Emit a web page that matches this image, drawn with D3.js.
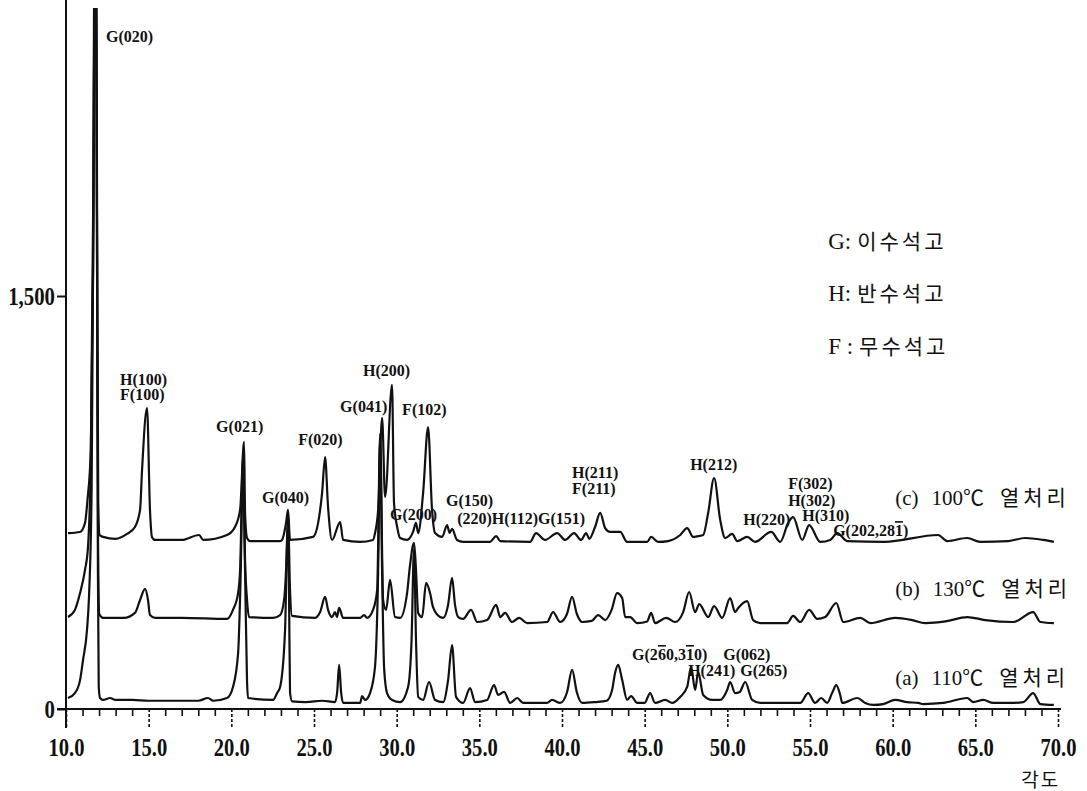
<!DOCTYPE html>
<html>
<head>
<meta charset="utf-8">
<script src="https://cdn.jsdelivr.net/npm/d3@7"></script>
<style>
  body { margin: 0; background: #fff; }
  svg { display: block; }
  .serif { font-family: "Liberation Serif", "Noto Sans CJK KR", serif; }
</style>
</head>
<body>
<div id="vis"></div>
<script>
// XRD patterns, 2theta (deg) vs counts
var xTicks = [10, 15, 20, 25, 30, 35, 40, 45, 50, 55, 60, 65, 70];
var yTicks = [0, 1500];
var seriesNames = [["(a)", "110℃", "열처리"], ["(b)", "130℃", "열처리"], ["(c)", "100℃", "열처리"]];
var legendItems = [["G:", "이수석고"], ["H:", "반수석고"], ["F :", "무수석고"]];
var axisTitle = "각도";

// (a) 110 C
var trace110 = [[10.12,40],[10.54,58],[10.85,105],[11.03,178],[11.27,287],[11.39,407],[11.55,800],[11.66,1800],[11.77,3300],[11.87,1800],[11.93,500],[11.98,80],[12.06,40],[12.24,33],[12.66,40],[13.00,33],[14.00,33],[15.00,30],[16.50,30],[18.00,30],[18.59,40],[18.90,30],[19.74,40],[20.10,80],[20.41,203],[20.55,450],[20.71,880],[20.83,500],[20.95,100],[21.01,40],[22.52,33],[22.77,58],[22.95,80],[23.25,287],[23.35,550],[23.43,690],[23.50,350],[23.55,60],[23.67,28],[24.50,25],[25.50,30],[26.27,25],[26.40,60],[26.52,160],[26.64,60],[26.76,22],[27.79,22],[27.91,47],[28.09,33],[28.39,58],[28.69,153],[28.88,500],[29.00,980],[29.12,500],[29.24,150],[29.42,58],[29.72,33],[30.21,25],[30.69,80],[30.90,250],[31.05,580],[31.17,250],[31.30,44],[31.60,33],[31.96,98],[32.32,33],[32.81,25],[33.11,105],[33.35,232],[33.59,44],[34.02,22],[34.44,76],[34.74,25],[35.47,33],[35.89,87],[36.14,51],[36.50,62],[36.86,22],[37.29,40],[37.65,22],[39.10,22],[39.40,33],[39.89,22],[40.30,60],[40.61,142],[40.90,60],[41.22,22],[42.00,25],[42.70,30],[43.03,69],[43.21,131],[43.40,160],[43.64,105],[43.94,33],[44.18,47],[44.55,22],[45.00,22],[45.33,58],[45.63,22],[46.24,33],[46.66,22],[47.15,44],[47.57,80],[47.81,153],[48.05,69],[48.24,134],[48.54,51],[49.08,33],[49.57,33],[49.99,69],[50.17,98],[50.47,58],[50.75,62],[51.08,98],[51.50,33],[51.99,22],[53.00,22],[54.41,22],[54.89,58],[55.31,22],[55.68,40],[56.04,22],[56.35,60],[56.59,87],[56.83,50],[56.95,22],[57.86,40],[58.34,22],[58.82,15],[59.43,18],[60.15,33],[60.88,25],[61.55,22],[61.85,18],[63.06,22],[64.51,40],[64.87,25],[65.48,33],[66.08,22],[67.11,22],[67.90,25],[68.50,58],[68.93,18],[69.75,15]];

// (b) 130 C
var trace130 = [[10.12,334],[10.54,360],[10.85,421],[11.15,505],[11.33,588],[11.50,900],[11.64,1800],[11.77,3300],[11.87,1800],[11.94,600],[12.01,345],[12.24,331],[13.50,331],[14.17,349],[14.48,396],[14.78,436],[14.96,396],[15.08,341],[15.38,331],[17.00,331],[19.74,327],[20.10,360],[20.41,421],[20.53,505],[20.71,920],[20.83,540],[20.95,396],[21.07,334],[22.52,331],[22.95,341],[23.19,396],[23.31,505],[23.43,700],[23.55,432],[23.67,338],[25.07,331],[25.37,352],[25.67,407],[25.85,360],[26.09,334],[26.27,352],[26.39,334],[26.52,367],[26.76,331],[27.79,331],[28.03,341],[28.21,331],[28.57,360],[28.82,432],[29.00,1000],[29.18,396],[29.36,360],[29.60,469],[29.90,334],[30.21,331],[30.63,421],[30.81,523],[31.05,603],[31.17,505],[31.30,349],[31.54,334],[31.78,458],[32.02,421],[32.20,370],[32.63,334],[32.81,331],[33.11,378],[33.35,476],[33.53,378],[33.72,334],[34.02,327],[34.50,360],[34.87,316],[35.47,323],[36.02,378],[36.26,334],[36.56,349],[36.98,316],[37.41,331],[37.89,312],[39.10,316],[39.46,352],[39.89,316],[40.30,345],[40.61,407],[40.90,345],[41.22,316],[41.80,320],[42.19,341],[42.61,323],[43.00,360],[43.33,421],[43.64,403],[43.82,334],[44.12,334],[44.55,312],[45.15,318],[45.39,349],[45.63,312],[46.30,331],[46.84,316],[47.33,352],[47.69,425],[48.05,352],[48.30,381],[48.84,334],[49.20,374],[49.69,331],[50.17,403],[50.47,352],[50.66,367],[51.20,392],[51.56,323],[51.99,312],[53.62,312],[53.98,338],[54.41,316],[54.95,360],[55.44,327],[55.92,334],[56.59,385],[57.01,316],[58.04,331],[58.64,312],[60.15,331],[61.18,323],[61.97,312],[63.20,318],[64.51,334],[65.60,323],[67.29,316],[68.50,352],[68.93,316],[69.75,312]];

// (c) 100 C
var trace100 = [[10.12,639],[10.85,643],[11.15,676],[11.30,760],[11.50,940],[11.64,1600],[11.79,3300],[11.88,1800],[11.95,750],[12.03,632],[12.24,625],[13.00,618],[13.69,636],[14.17,661],[14.48,723],[14.60,868],[14.90,1093],[15.08,723],[15.20,625],[15.38,614],[17.00,614],[18.05,632],[18.30,614],[19.74,632],[20.22,661],[20.53,723],[20.77,970],[20.83,712],[20.95,621],[21.13,610],[22.95,610],[23.07,614],[23.31,676],[23.43,723],[23.55,614],[24.94,625],[25.25,676],[25.49,785],[25.67,915],[25.85,734],[26.09,614],[26.58,679],[26.76,614],[27.79,607],[28.57,614],[28.69,639],[28.88,723],[29.12,1057],[29.30,770],[29.72,1177],[29.84,748],[30.03,661],[30.21,621],[30.63,614],[30.99,643],[31.17,676],[31.30,639],[31.60,785],[31.90,1024],[32.14,723],[32.32,639],[32.75,625],[33.05,668],[33.20,640],[33.35,654],[33.65,614],[34.02,607],[35.65,607],[36.02,628],[36.26,610],[38.07,607],[38.43,639],[38.97,614],[39.71,639],[40.19,614],[40.73,639],[41.16,614],[41.46,639],[41.65,618],[42.00,661],[42.31,712],[42.61,657],[42.91,643],[43.52,643],[43.94,607],[45.15,607],[45.39,625],[45.82,607],[46.42,610],[47.15,632],[47.57,657],[47.93,625],[48.24,628],[48.54,632],[48.84,712],[49.20,839],[49.57,686],[49.87,621],[50.29,636],[50.60,610],[51.20,625],[51.68,607],[52.65,643],[53.20,607],[53.68,676],[53.98,697],[54.53,614],[54.95,668],[55.62,607],[56.22,614],[56.65,639],[57.25,610],[59.50,607],[62.75,632],[63.30,610],[64.51,621],[65.30,607],[67.00,610],[68.02,621],[69.11,614],[69.75,607]];

// peak assignments: text, 2theta and counts of the text's start / baseline
// {..} = index with an overbar
var peakLabels = [
  ["G(020)", 12.42, 2423],
  ["H(100)", 13.27, 1177], ["F(100)", 13.27, 1122],
  ["G(021)", 19.08, 1006], ["G(040)", 21.86, 748], ["F(020)", 24.04, 959],
  ["G(041)", 26.58, 1079], ["H(200)", 27.97, 1209], ["F(102)", 30.33, 1068],
  ["G(200)", 29.60, 686], ["G(150)", 32.99, 737], ["(220)H(112)G(151)", 33.66, 672],
  ["H(211)", 40.61, 839], ["F(211)", 40.61, 781], ["H(212)", 47.75, 868],
  ["H(220)", 50.96, 668], ["F(302)", 53.68, 799], ["H(302)", 53.68, 737],
  ["H(310)", 54.53, 683], ["G(202,28{1})", 56.40, 628],
  ["G(2{6}0,3{1}0)", 44.24, 178], ["G(062)", 49.75, 178],
  ["H(241)", 47.63, 120], ["G(265)", 50.78, 120]
];

var svg = d3.select('#vis').append('svg').attr('width', 1087).attr('height', 791);

var x = d3.scaleLinear().domain([10, 70]).range([66, 1058]);
var y = d3.scaleLinear().domain([0, 2546]).range([709, 8]);

svg.append('clipPath').attr('id', 'plot')
  .append('rect').attr('x', x(10)).attr('y', y(2546))
  .attr('width', x(70) - x(10) + 5).attr('height', y(0) - y(2546) + 2);

var line = d3.line()
  .x(function(d) { return x(d[0]); })
  .y(function(d) { return y(d[1]); })
  .curve(d3.curveMonotoneX);

svg.selectAll('path.trace')
  .data([trace110, trace130, trace100]).enter().append('path')
  .attr('class', 'trace')
  .attr('clip-path', 'url(#plot)')
  .attr('d', line)
  .attr('fill', 'none')
  .attr('stroke', '#111')
  .attr('stroke-width', 2.2)
  .attr('stroke-linejoin', 'round');

// x axis: minor ticks every degree, dashed major ticks every 5
var minor = d3.range(11, 70, 1).filter(function(v) { return v % 5 !== 0; });
svg.append('g').attr('transform', 'translate(0,' + y(0) + ')')
  .call(d3.axisBottom(x).tickValues(minor).tickSize(7).tickFormat(''))
  .call(function(g) { g.select('.domain').remove(); })
  .selectAll('line').attr('stroke', '#111').attr('stroke-width', 1.6);

var gx = svg.append('g').attr('transform', 'translate(0,' + y(0) + ')')
  .call(d3.axisBottom(x).tickValues(xTicks).tickSize(19).tickFormat(d3.format('.1f')));
gx.select('.domain').remove();
gx.selectAll('.tick line').attr('stroke', '#111').attr('stroke-width', 1.6).attr('stroke-dasharray', '3,2');
gx.selectAll('.tick text')
  .attr('class', 'serif')
  .attr('y', 47).attr('dy', 0)
  .attr('fill', '#111')
  .style('font-size', '26px').style('font-weight', 'bold')
  .attr('textLength', 36).attr('lengthAdjust', 'spacingAndGlyphs');

svg.append('line')
  .attr('x1', x(10) - 9).attr('x2', x(70) + 3)
  .attr('y1', y(0)).attr('y2', y(0))
  .attr('stroke', '#111').attr('stroke-width', 2.2);

// y axis
var gy = svg.append('g').attr('transform', 'translate(' + x(10) + ',0)')
  .call(d3.axisLeft(y).tickValues(yTicks).tickSize(9).tickPadding(2).tickFormat(d3.format(',')));
gy.select('.domain').remove();
gy.selectAll('.tick line').attr('stroke', '#111').attr('stroke-width', 2);
gy.selectAll('.tick text')
  .attr('class', 'serif').attr('fill', '#111')
  .style('font-size', '26px').style('font-weight', 'bold')
  .each(function() {
    var t = d3.select(this);
    t.attr('textLength', this.getComputedTextLength() * 0.8).attr('lengthAdjust', 'spacingAndGlyphs');
  });

svg.append('line')
  .attr('x1', x(10)).attr('x2', x(10))
  .attr('y1', 0).attr('y2', y(0) + 19)
  .attr('stroke', '#111').attr('stroke-width', 2);

// peak labels
peakLabels.forEach(function(p) {
  var t = svg.append('text').attr('class', 'serif')
    .attr('x', x(p[1])).attr('y', y(p[2]))
    .attr('fill', '#111')
    .style('font-size', '16px').style('font-weight', 'bold');
  p[0].split(/(\{[^}]*\})/).forEach(function(s) {
    if (!s) return;
    if (s.charAt(0) === '{') {
      t.append('tspan').text(s.slice(1, -1)).style('text-decoration', 'overline');
    } else {
      t.append('tspan').text(s);
    }
  });
});

// series names at the right
var nameAt = [87, 410, 741];
var names = svg.selectAll('text.series')
  .data(seriesNames).enter().append('text')
  .attr('class', 'series serif')
  .attr('x', x(60.15))
  .attr('y', function(d, i) { return y(nameAt[i]); })
  .attr('fill', '#111')
  .style('font-size', '21px');
names.append('tspan').text(function(d) { return d[0]; });
names.append('tspan').attr('dx', 13).text(function(d) { return d[1]; });
names.append('tspan').attr('dx', 16).style('letter-spacing', '4px').text(function(d) { return d[2]; });

// legend of phases
var leg = svg.selectAll('text.legend')
  .data(legendItems).enter().append('text')
  .attr('class', 'legend serif')
  .attr('x', x(56.10))
  .attr('y', function(d, i) { return y(1671) + i * 52.5; })
  .attr('fill', '#111')
  .style('font-size', '23px');
leg.append('tspan').text(function(d) { return d[0]; });
leg.append('tspan').attr('dx', 6).style('font-size', '21px').style('letter-spacing', '3px').text(function(d) { return d[1]; });

svg.append('text').attr('class', 'serif')
  .attr('x', x(67.78)).attr('y', y(0) + 78)
  .attr('fill', '#111')
  .style('font-size', '19px')
  .style('letter-spacing', '2px')
  .text(axisTitle);
</script>
</body>
</html>
